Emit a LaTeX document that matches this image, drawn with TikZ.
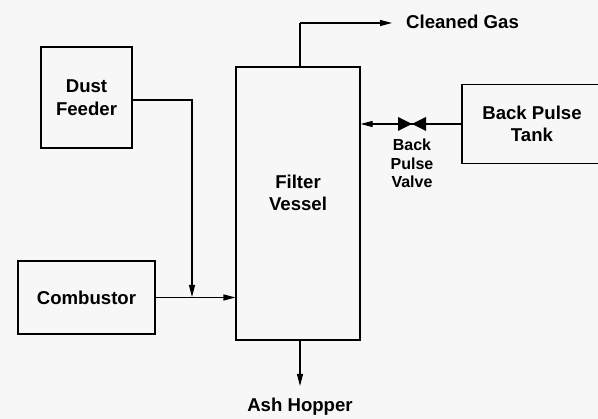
\documentclass[tikz,border=0pt]{standalone}
\usepackage{fontspec}
\setmainfont{Liberation Sans}
\usetikzlibrary{arrows.meta,calc}
\begin{document}
\begin{tikzpicture}[x=1pt,y=-1pt,
  box/.style={draw,line width=1.1pt,inner sep=0pt,font=\bfseries\fontsize{18.6}{22.5}\selectfont,align=center},
  lbl/.style={font=\bfseries\fontsize{18.6}{22.5}\selectfont,align=center,inner sep=0pt},
  flow/.style={line width=1.1pt,-{Triangle[length=12pt,width=6pt]}},
  plain/.style={line width=1.1pt}]
\useasboundingbox[fill=white!97!black] (0,0) rectangle (598,419);
\node[box,minimum width=91pt,minimum height=101pt] (dust) at (86.5,97.5) {Dust\\Feeder};
\node[box,minimum width=137pt,minimum height=73pt] (comb) at (86.5,297.5) {Combustor};
\node[box,minimum width=124pt,minimum height=273pt] (fv) at (298,203.5) {};
\node[lbl] (fvlabel) at (298,193) {Filter\\Vessel};
\node[box,minimum width=140pt,minimum height=79pt] (tank) at (532,124) {Back Pulse\\Tank};
\node[lbl,anchor=west] (gas) at (406,22) {Cleaned Gas};
\node[lbl,anchor=north] (ash) at (300,398) {Ash Hopper};
\coordinate (gasend) at (392,23);
\coordinate (fvtop) at (300,67);
\coordinate (fvbot) at (300,340);
\coordinate (ashend) at (300,386);
\coordinate (j) at (192,297);
\coordinate (valve) at (412,124);
\node[lbl,anchor=north,font=\bfseries\fontsize{16}{18.5}\selectfont] (vl) at (412,139) {Back\\Pulse\\Valve};
% connectors
\draw[plain] (fvtop) -- (fvtop |- gasend);
\draw[flow] (fvtop |- gasend) -- (gasend);
\draw[flow] (fvbot) -- (ashend);
\draw[flow] (dust.east |- 0,100) -| (j);
\draw[flow] (comb.east) -- (fv.west |- comb.east);
\draw[plain] (tank.west) -- (valve);
\draw[flow] (valve) -- (fv.east |- valve);
\fill ($(valve)+(-14,-7)$) -- ($(valve)+(-14,7)$) -- (valve) -- cycle;
\fill ($(valve)+(14,-7)$) -- ($(valve)+(14,7)$) -- (valve) -- cycle;
\end{tikzpicture}
\end{document}
